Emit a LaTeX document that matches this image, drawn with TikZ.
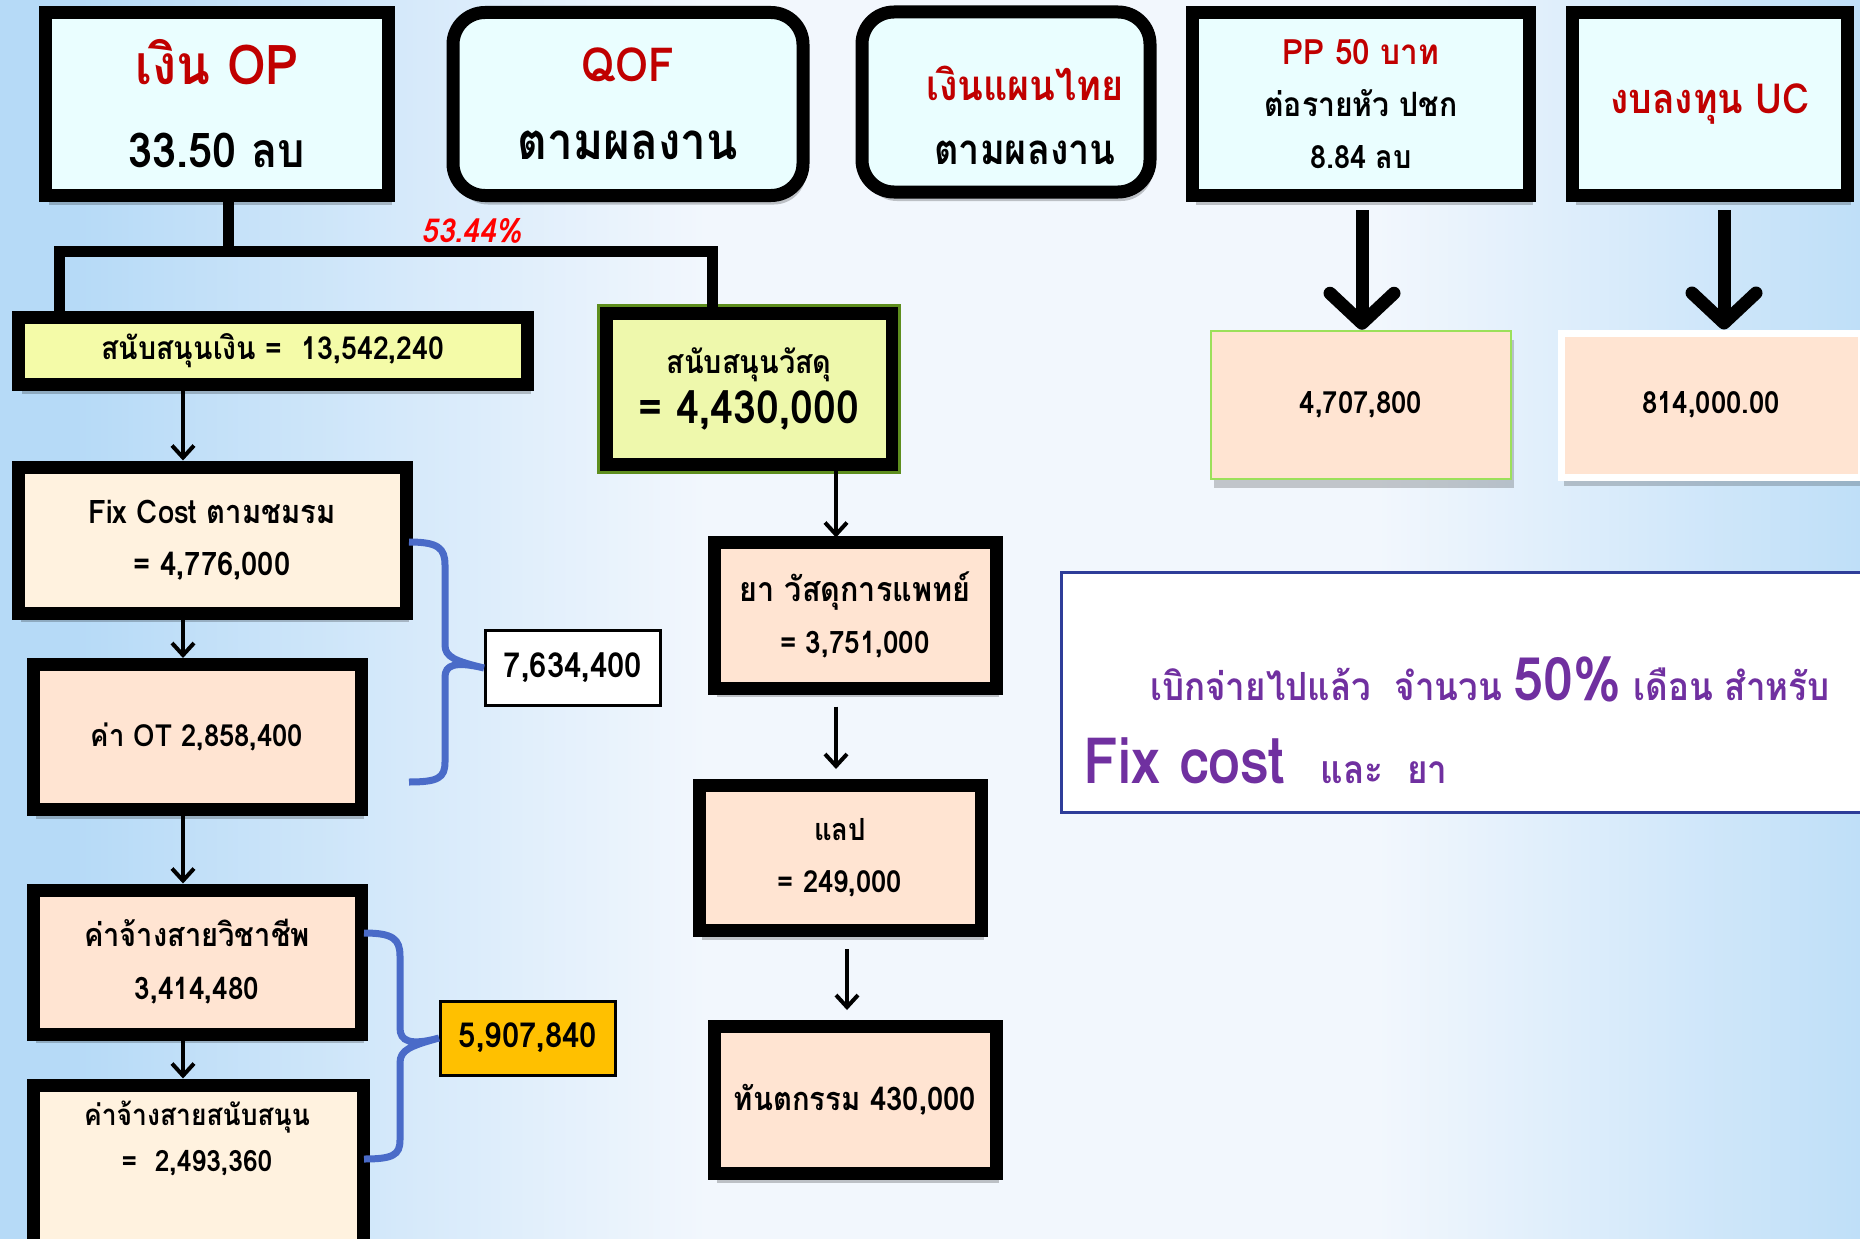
\documentclass[tikz,border=0pt]{standalone}
\usepackage{fontspec}
\setmainfont[Script=Thai,FakeStretch=0.9]{Loma}
\usetikzlibrary{arrows.meta,shadows}
\definecolor{cyanf}{HTML}{EAFEFF}
\definecolor{yelf}{HTML}{F4FBA8}
\definecolor{yelf2}{HTML}{EEF8AC}
\definecolor{cream}{HTML}{FFF2DF}
\definecolor{peach}{HTML}{FFE4D2}
\definecolor{gold}{HTML}{FFC000}
\definecolor{dred}{HTML}{C00000}
\definecolor{purp}{HTML}{7030A0}
\definecolor{navy}{HTML}{2E3D99}
\definecolor{bracec}{HTML}{4A6BC8}
\definecolor{bgblue}{HTML}{B6DAF7}
\definecolor{bgwhite}{HTML}{F2F7FD}
\definecolor{bgblue2}{HTML}{BFDFF8}
\definecolor{lgreen}{HTML}{9BE05A}
\definecolor{dgreen}{HTML}{5E8E1E}
\pgfdeclarehorizontalshading{bgsh}{100bp}{color(0bp)=(bgblue); color(25bp)=(bgblue); color(27bp)=(bgblue); color(44bp)=(bgwhite); color(62bp)=(bgwhite); color(75bp)=(bgblue2); color(100bp)=(bgblue2)}
\newcommand\fsz[2]{\fontsize{#1}{#2}\selectfont}
\tikzset{
  box/.style={draw=black, line width=13pt, inner sep=0pt, align=center, font=\bfseries,
    drop shadow={shadow xshift=3pt, shadow yshift=-9pt, opacity=0.22, fill=black}},
  thinbox/.style={draw=black, line width=3pt, inner sep=0pt, align=center, font=\bfseries\fsz{34.5}{40}},
  arr/.style={draw=black, line width=3.5pt, -{Straight Barb[length=12pt,width=22pt,line width=4pt]}},
  bigarr/.style={draw=black, line width=13pt, -{Straight Barb[length=30pt,width=64pt,line width=13pt,round]}},
  bracepath/.style={draw=bracec, line width=7pt},
  connect/.style={draw=black, line width=11pt},
}
\begin{document}
\begin{tikzpicture}[x=1pt,y=-1pt]
\path[use as bounding box] (0,0) rectangle (1860,1239);
\shade[shading=bgsh] (0,0) rectangle (1860,1239);

% top row
\node[box, fill=cyanf, minimum width=343pt, minimum height=183pt, font=\bfseries\fsz{48}{83}] (op) at (217,104)
  {{\color{dred}\fsz{55}{83}เงิน OP}\\33.50 ลบ};
\node[box, fill=cyanf, rounded corners=32pt, minimum width=350pt, minimum height=183pt, font=\bfseries\fsz{51}{78}] (qof) at (628,104)
  {{\color{dred}\fsz{47}{78}QOF}\\ตามผลงาน};
\node[box, fill=cyanf, rounded corners=32pt, minimum width=288pt, minimum height=180pt, font=\bfseries\fsz{42}{64}] (thai) at (1006,102)
  {\hspace*{38pt}\rule{0pt}{62pt}{\color{dred}เงินแผนไทย}\\\hspace*{38pt}ตามผลงาน};
\node[box, fill=cyanf, minimum width=337pt, minimum height=183pt, font=\bfseries\fsz{33.5}{52}] (pp) at (1361,104)
  {{\color{dred}\fsz{35}{52}PP 50 บาท}\\ต่อรายหัว ปชก\\{\fsz{32}{52}8.84 ลบ}};
\node[box, fill=cyanf, minimum width=275pt, minimum height=183pt, font=\bfseries\fsz{41.5}{52}] (uc) at (1710,104)
  {\color{dred}งบลงทุน UC};

% split connector
\node[font=\bfseries\itshape\fsz{33}{33}, text=red, inner sep=0pt] (pct) at (472,231) {53.44\%};
\coordinate (stem) at (228,251);
\coordinate (barL) at (59,251);
\coordinate (barR) at (712,251);

\node[box, fill=yelf, minimum width=509pt, minimum height=67pt, font=\bfseries\fsz{31.7}{36}] (fin) at (273,351)
  {สนับสนุนเงิน =\ \ 13,542,240};
\node[box, fill=yelf2, minimum width=286pt, minimum height=151pt, font=\bfseries\fsz{32}{50}] (mat) at (749,389)
  {สนับสนุนวัสดุ\\{\fsz{45.7}{50}= 4,430,000}};
\draw[dgreen, line width=3pt] ([shift={(-1.3,-1.3)}]mat.north west) rectangle ([shift={(1.3,1.3)}]mat.south east);

\draw[connect] (op.south -| stem) -- (stem);
\draw[connect, line cap=rect] (fin.north -| barL) -- (barL) -- (barR) -- (mat.north -| barR);

% left column
\node[box, fill=cream, minimum width=388pt, minimum height=146pt, font=\bfseries\fsz{32.5}{52}] (fix) at (212,540)
  {Fix Cost ตามชมรม\\= 4,776,000};
\node[box, fill=peach, minimum width=328pt, minimum height=145pt, font=\bfseries\fsz{30.5}{52}] (ot) at (197,737)
  {ค่า OT 2,858,400};
\node[box, fill=peach, minimum width=328pt, minimum height=144pt, font=\bfseries\fsz{32.3}{53}] (vic) at (197,962)
  {ค่าจ้างสายวิชาชีพ\\{\fsz{31}{53}3,414,480}};
\node[box, fill=cream, minimum width=330pt, minimum height=180pt] (sup) at (198,1175) {};
\node[font=\bfseries\fsz{29.4}{46}, align=center, inner sep=0pt] (suptext) at (197,1138)
  {ค่าจ้างสายสนับสนุน\\=\ \ 2,493,360};

\node[thinbox, fill=white, minimum width=175pt, minimum height=75pt] (sum1) at (573,668) {7,634,400};
\node[thinbox, fill=gold, minimum width=175pt, minimum height=74pt] (sum2) at (528,1038) {5,907,840};

% middle column
\node[box, fill=peach, minimum width=282pt, minimum height=146pt, font=\bfseries\fsz{33.9}{52}] (ya) at (855,615)
  {ยา วัสดุการแพทย์\\{\fsz{31}{52}= 3,751,000}};
\node[box, fill=peach, minimum width=282pt, minimum height=145pt, font=\bfseries\fsz{30.5}{52}] (lab) at (840,858)
  {แลป\\= 249,000};
\node[box, fill=peach, minimum width=282pt, minimum height=147pt, font=\bfseries\fsz{32.5}{52}] (den) at (855,1100)
  {ทันตกรรม 430,000};

% right column
\node[draw=lgreen, line width=2.5pt, fill=peach, minimum width=300pt, minimum height=148pt, inner sep=0pt,
  font=\bfseries\fsz{30.6}{36}, drop shadow={shadow xshift=3pt, shadow yshift=-9pt, opacity=0.2, fill=black}] (v1) at (1361,405) {4,707,800};
\node[draw=white, line width=7pt, fill=peach, minimum width=300pt, minimum height=144pt, inner sep=0pt,
  font=\bfseries\fsz{30.6}{36}, drop shadow={shadow xshift=3pt, shadow yshift=-9pt, opacity=0.2, fill=black}] (v2) at (1711,405) {814,000.00};

\node[draw=navy, line width=3pt, fill=white, minimum width=810pt, minimum height=240pt, inner sep=0pt] (note) at (1466,692) {};
\node[anchor=base west, inner sep=0pt, text=purp, font=\bfseries\fsz{38.8}{40}] (note1) at (1150,700)
  {เบิกจ่ายไปแล้ว\ \ จำนวน {\fsz{60}{62}50\%} เดือน สำหรับ};
\node[anchor=base west, inner sep=0pt, text=purp, font=\bfseries\fsz{39}{40}] (note2) at (1083,783)
  {{\fsz{64}{66}Fix cost}\ \ \ และ\ \ ยา};

% arrows
\draw[arr] (fin.south -| 183,0) -- (fix.north -| 183,0);
\draw[arr] (fix.south -| 183,0) -- (ot.north -| 183,0);
\draw[arr] (ot.south -| 183,0) -- (vic.north -| 183,0);
\draw[arr] (vic.south -| 183,0) -- (sup.north -| 183,0);
\draw[arr] (mat.south -| 836,0) -- ([yshift=-2pt]ya.north -| 836,0);
\draw[arr, shorten <=12pt, shorten >=10pt] (ya.south -| 836,0) -- (lab.north -| 836,0);
\draw[arr, shorten <=12pt, shorten >=10pt] (lab.south -| 847,0) -- (den.north -| 847,0);
\draw[bigarr, shorten <=8pt] (pp.south -| 1362,0) -- (v1.north -| 1362,0);
\draw[bigarr, shorten <=8pt] (uc.south -| 1724,0) -- (v2.north -| 1724,0);

% braces
\coordinate (b1t) at (409,542);
\coordinate (b1b) at (409,782);
\draw[bracepath] (b1t) .. controls (438,542) and (445,548) .. (445,565) -- (445,645)
  .. controls (445,657) and (455,661) .. (sum1.west)
  .. controls (455,661) and (445,665) .. (445,677) -- (445,762)
  .. controls (445,778) and (438,782) .. (b1b);
\coordinate (b2t) at (364,933);
\coordinate (b2b) at (364,1159);
\draw[bracepath] (b2t) .. controls (393,933) and (400,939) .. (400,956) -- (400,1028)
  .. controls (400,1041) and (410,1046) .. (sum2.west)
  .. controls (410,1046) and (400,1050) .. (400,1063) -- (400,1140)
  .. controls (400,1155) and (393,1159) .. (b2b);
\end{tikzpicture}
\end{document}
